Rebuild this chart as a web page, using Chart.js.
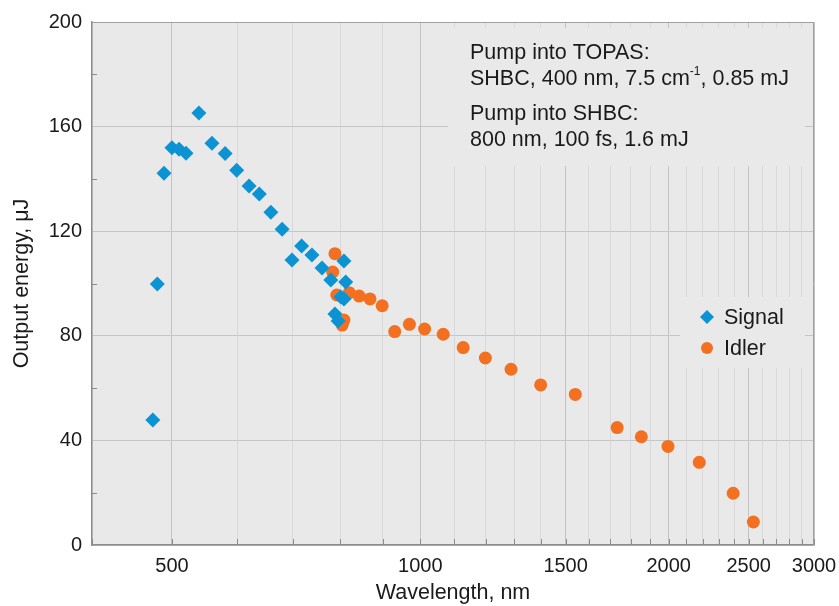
<!DOCTYPE html>
<html>
<head>
<meta charset="utf-8">
<script src="https://cdn.jsdelivr.net/npm/chart.js@4"></script>
<style>
  html, body { margin: 0; padding: 0; background: #fff; }
  #wrap { width: 839px; height: 606px; }
</style>
</head>
<body>
<div id="wrap"><canvas id="myChart" width="839" height="606"></canvas></div>
<script>
// Signal (diamonds) and idler (circles), wavelength in nm, energy in uJ
const signalWavelength = [474, 480, 489, 500, 510, 520, 539, 559, 580, 599, 620, 638, 659, 680, 699, 718, 739, 760, 779, 788, 795, 801, 808, 808, 812];
const signalEnergy = [47.8, 99.8, 142.2, 151.9, 151.3, 149.8, 165.2, 153.6, 149.7, 143.3, 137.3, 134.2, 127.2, 120.7, 109.0, 114.3, 110.9, 105.9, 101.3, 88.3, 85.7, 94.8, 94.1, 108.6, 100.6];

const idlerWavelength = [783, 788, 792, 804, 808, 820, 843, 869, 899, 931, 970, 1012, 1066, 1127, 1199, 1288, 1399, 1541, 1732, 1853, 1996, 2178, 2394, 2533];
const idlerEnergy = [104.4, 111.4, 95.6, 84.1, 86.0, 96.5, 95.2, 94.1, 91.5, 81.6, 84.4, 82.6, 80.6, 75.5, 71.5, 67.2, 61.2, 57.6, 44.9, 41.4, 37.7, 31.6, 19.8, 8.8];

// every 100 nm gets a tick, only these get a label
const xTickValues = [];
for (let v = 400; v <= 3000; v += 100) xTickValues.push(v);
const xLabelValues = [500, 1000, 1500, 2000, 2500, 3000];
const yMinorTicks = [20, 60, 100, 140, 180];

const noteLines = ["Pump into TOPAS:", "SHBC, 400 nm, 7.5 cm", "Pump into SHBC:", "800 nm, 100 fs, 1.6 mJ"];
const legendLabels = ["Signal", "Idler"];

const FONT = "'Liberation Sans', Arial, sans-serif";
const PLOT_BG = "#e9e9e9";
const SIGNAL_COLOR = "#0b93d3";
const IDLER_COLOR = "#f37021";
const TEXT_SIZE = 21.5;

function toPoints(xs, ys) {
  return xs.map((x, i) => ({ x: x, y: ys[i] }));
}

// plot background, boxes that hide the grid, inner tick marks, note and legend
const decorPlugin = {
  id: "decor",
  beforeDraw(chart) {
    const { ctx, chartArea: a } = chart;
    ctx.save();
    ctx.fillStyle = PLOT_BG;
    ctx.fillRect(a.left, a.top, a.right - a.left, a.bottom - a.top);
    ctx.restore();
  },
  beforeDatasetsDraw(chart) {
    const { ctx, chartArea: a, scales } = chart;
    const x = scales.x;
    const y = scales.y;
    ctx.save();

    // inward tick marks
    ctx.strokeStyle = "#8c8c8c";
    ctx.lineWidth = 1;
    xTickValues.forEach((v) => {
      const px = Math.round(x.getPixelForValue(v)) + 0.5;
      ctx.beginPath();
      ctx.moveTo(px, a.bottom);
      ctx.lineTo(px, a.bottom - 6);
      ctx.stroke();
    });
    yMinorTicks.forEach((v) => {
      const py = Math.round(y.getPixelForValue(v)) + 0.5;
      ctx.beginPath();
      ctx.moveTo(a.left, py);
      ctx.lineTo(a.left + 5, py);
      ctx.stroke();
    });

    // top and right frame
    ctx.strokeStyle = "#a0a0a0";
    ctx.beginPath();
    ctx.moveTo(a.left, a.top + 0.5);
    ctx.lineTo(a.right - 0.5, a.top + 0.5);
    ctx.lineTo(a.right - 0.5, a.bottom);
    ctx.stroke();

    // boxes behind note and legend hide the grid
    ctx.fillStyle = PLOT_BG;
    ctx.fillRect(448, 28, 357, 138);
    ctx.fillRect(680, 297, 125, 71);

    ctx.fillStyle = "#1a1a1a";
    ctx.font = TEXT_SIZE + "px " + FONT;
    ctx.textBaseline = "alphabetic";
    ctx.textAlign = "left";
    ctx.fillText(noteLines[0], 470, 59);
    ctx.fillText(noteLines[1], 470, 85);
    const w = ctx.measureText(noteLines[1]).width;
    ctx.font = "12px " + FONT;
    ctx.fillText("-1", 470 + w, 75);
    const w2 = ctx.measureText("-1").width;
    ctx.font = TEXT_SIZE + "px " + FONT;
    ctx.fillText(", 0.85 mJ", 470 + w + w2, 85);
    ctx.fillText(noteLines[2], 470, 120);
    ctx.fillText(noteLines[3], 470, 146);

    // legend
    ctx.fillStyle = SIGNAL_COLOR;
    ctx.beginPath();
    ctx.moveTo(707, 310);
    ctx.lineTo(714, 317);
    ctx.lineTo(707, 324);
    ctx.lineTo(700, 317);
    ctx.closePath();
    ctx.fill();
    ctx.fillStyle = IDLER_COLOR;
    ctx.beginPath();
    ctx.arc(707, 348, 6, 0, Math.PI * 2);
    ctx.fill();

    ctx.fillStyle = "#1a1a1a";
    ctx.textBaseline = "middle";
    ctx.fillText(legendLabels[0], 724, 318);
    ctx.fillText(legendLabels[1], 724, 349);
    ctx.restore();
  },
};

function initChart() {
  const ctx = document.getElementById("myChart").getContext("2d");

  return new Chart(ctx, {
    type: "scatter",
    data: {
      datasets: [
        {
          label: "Signal",
          data: toPoints(signalWavelength, signalEnergy),
          pointStyle: "rectRot",
          pointRadius: 7.5,
          pointHoverRadius: 7.5,
          backgroundColor: SIGNAL_COLOR,
          borderColor: SIGNAL_COLOR,
          borderWidth: 0,
        },
        {
          label: "Idler",
          data: toPoints(idlerWavelength, idlerEnergy),
          pointStyle: "circle",
          pointRadius: 6.5,
          pointHoverRadius: 6.5,
          backgroundColor: IDLER_COLOR,
          borderColor: IDLER_COLOR,
          borderWidth: 0,
        },
      ],
    },
    options: {
      responsive: false,
      animation: false,
      events: [],
      layout: { padding: { top: 22, right: 25, left: 0, bottom: 0 } },
      plugins: {
        legend: { display: false },
        tooltip: { enabled: false },
      },
      scales: {
        x: {
          type: "logarithmic",
          min: 400,
          max: 3000,
          afterBuildTicks: (scale) => {
            scale.ticks = xTickValues.map((v) => ({ value: v }));
          },
          afterFit: (scale) => {
            scale.height = 61;
            scale.paddingLeft = 0;
            scale.paddingRight = 0;
          },
          ticks: {
            autoSkip: false,
            maxRotation: 0,
            padding: 9,
            color: "#1a1a1a",
            font: { family: FONT, size: 20 },
            callback: (v) => (xLabelValues.includes(v) ? String(v) : ""),
          },
          grid: {
            drawTicks: false,
            color: (c) => (c.tick && c.tick.value % 500 === 0 ? "#c3c3c3" : "#d9d9d9"),
          },
          border: { color: "#8c8c8c", width: 1.5 },
          title: {
            display: true,
            text: "Wavelength, nm",
            color: "#1a1a1a",
            font: { family: FONT, size: TEXT_SIZE },
            padding: { top: 4, bottom: 0 },
          },
        },
        y: {
          min: 0,
          max: 200,
          afterFit: (scale) => {
            scale.width = 92;
          },
          ticks: {
            stepSize: 40,
            padding: 10,
            color: "#1a1a1a",
            font: { family: FONT, size: 20 },
          },
          grid: {
            drawTicks: false,
            color: "#c6c6c6",
          },
          border: { color: "#8c8c8c", width: 1.5 },
          title: {
            display: true,
            text: "Output energy, \u03bcJ",
            color: "#1a1a1a",
            font: { family: FONT, size: TEXT_SIZE },
            padding: { top: 9, bottom: 0 },
          },
        },
      },
    },
    plugins: [decorPlugin],
  });
}

initChart();
</script>
</body>
</html>
